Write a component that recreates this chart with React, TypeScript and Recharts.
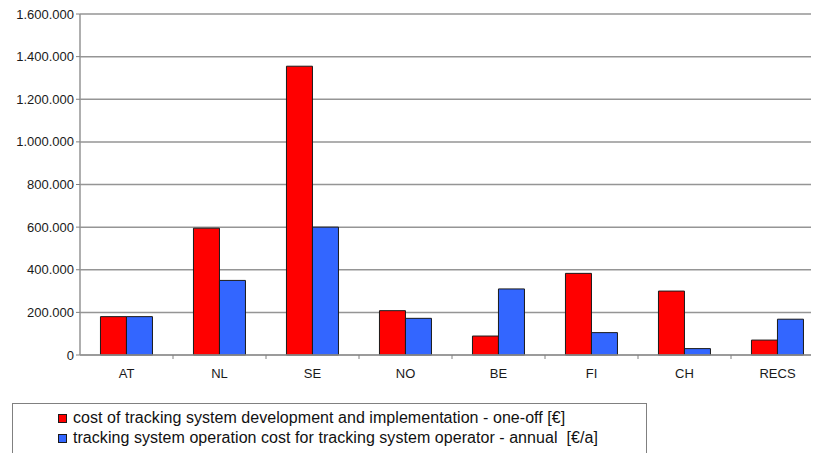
import * as React from 'react'
import { BarChart, Bar, XAxis, YAxis, CartesianGrid } from 'recharts'

const COUNTRIES = ['AT', 'NL', 'SE', 'NO', 'BE', 'FI', 'CH', 'RECS']
const ONE_OFF_COST = [180000, 595000, 1355000, 208000, 89000, 383000, 300000, 70000]
const ANNUAL_COST = [180000, 350000, 600000, 172000, 310000, 105000, 30000, 168000]
const Y_TICKS = [0, 200000, 400000, 600000, 800000, 1000000, 1200000, 1400000, 1600000]

const SERIES = [
  { key: 'oneOff', label: 'cost of tracking system development and implementation - one-off [€]', color: '#FF0000' },
  { key: 'annual', label: 'tracking system operation cost for tracking system operator - annual  [€/a]', color: '#3366FF' },
]

const data = COUNTRIES.map((name, i) => ({
  name,
  oneOff: ONE_OFF_COST[i],
  annual: ANNUAL_COST[i],
}))

const CHART_W = 820
const CHART_H = 385
const MARGIN = { top: 6, right: 4, left: 0, bottom: 8 }
const Y_AXIS_W = 72
const X_AXIS_H = 30
const FONT = '"Liberation Sans", Arial, sans-serif'

const fmt = (v: number) => String(v).replace(/\B(?=(\d{3})+(?!\d))/g, '.')

// category labels centred in the band, small tick marks on the band edges
function CategoryTick(props: any) {
  const { x, y, payload, index } = props
  const band = (CHART_W - MARGIN.left - MARGIN.right - Y_AXIS_W) / COUNTRIES.length
  return (
    <g>
      {index > 0 && (
        <line x1={x - band / 2} x2={x - band / 2} y1={y - 8} y2={y - 4} stroke="#808080" />
      )}
      <text x={x} y={y + 15} textAnchor="middle" fontSize={13} fill="#1a1a1a" fontFamily={FONT}>
        {payload.value}
      </text>
    </g>
  )
}

export default function App() {
  return (
    <div style={{ width: 811, overflow: 'hidden', background: '#fff' }}>
      <BarChart
        width={CHART_W}
        height={CHART_H}
        data={data}
        margin={MARGIN}
        barCategoryGap="22%"
        barGap={0}
      >
        <CartesianGrid vertical={false} stroke="#959595" strokeWidth={1.5} />
        <XAxis
          dataKey="name"
          height={X_AXIS_H}
          axisLine={{ stroke: '#959595', strokeWidth: 1.5 }}
          tickLine={false}
          tick={<CategoryTick />}
          interval={0}
        />
        <YAxis
          width={Y_AXIS_W}
          domain={[0, 1600000]}
          ticks={Y_TICKS}
          tickFormatter={fmt}
          axisLine={{ stroke: '#959595', strokeWidth: 1.5 }}
          tickLine={{ stroke: '#808080' }}
          tickSize={4}
          tick={{ fontSize: 13, fill: '#1a1a1a', fontFamily: FONT }}
          interval={0}
        />
        {SERIES.map((s) => (
          <Bar
            key={s.key}
            dataKey={s.key}
            fill={s.color}
            stroke="#1a1a1a"
            strokeWidth={1}
            isAnimationActive={false}
          />
        ))}
      </BarChart>
      <div
        style={{
          marginTop: 10,
          marginLeft: 4,
          width: 635,
          height: 60,
          border: '1px solid #808080',
          boxSizing: 'border-box',
          padding: '4px 0 0 45px',
          fontFamily: FONT,
          fontSize: 16,
          letterSpacing: 0.05,
          color: '#111',
          lineHeight: '20px',
        }}
      >
        {SERIES.map((s) => (
          <div key={s.key} style={{ display: 'flex', alignItems: 'center', whiteSpace: 'pre' }}>
            <span
              style={{
                display: 'inline-block',
                width: 9,
                height: 9,
                boxSizing: 'border-box',
                background: s.color,
                border: '1px solid #1a1a1a',
                marginRight: 6,
              }}
            />
            {s.label}
          </div>
        ))}
      </div>
    </div>
  )
}
